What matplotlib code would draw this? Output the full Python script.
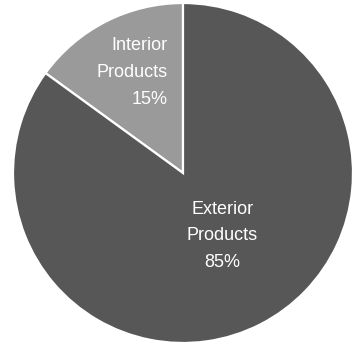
import matplotlib.pyplot as plt
import numpy as np

plt.rcParams['font.family'] = ['Liberation Sans', 'DejaVu Sans']

# product mix
labels = ["Interior\nProducts", "Exterior\nProducts"]
shares = [15, 85]
colors = ["#9a9a9a", "#575757"]

fig = plt.figure(figsize=(3.53, 3.46), dpi=100)
ax = fig.add_axes([13 / 353, 3 / 346, 340 / 353, 340 / 346])

wedges, _ = ax.pie(shares, colors=colors, startangle=90, counterclock=True,
                   radius=1, wedgeprops=dict(edgecolor="white", linewidth=1.6))

# labels placed inside each slice
txt_pos = [(-0.09, 0.59, "right"), (0.23, -0.37, "center")]
for lab, val, (x, y, ha) in zip(labels, shares, txt_pos):
    ax.text(x, y, f"{lab}\n{val}%", ha=ha, va="center", color="white",
            fontsize=13, linespacing=1.75)

ax.set_xlim(-1, 1)
ax.set_ylim(-1, 1)
ax.set_aspect("equal")
ax.axis("off")

fig.savefig("out.png", dpi=100)
